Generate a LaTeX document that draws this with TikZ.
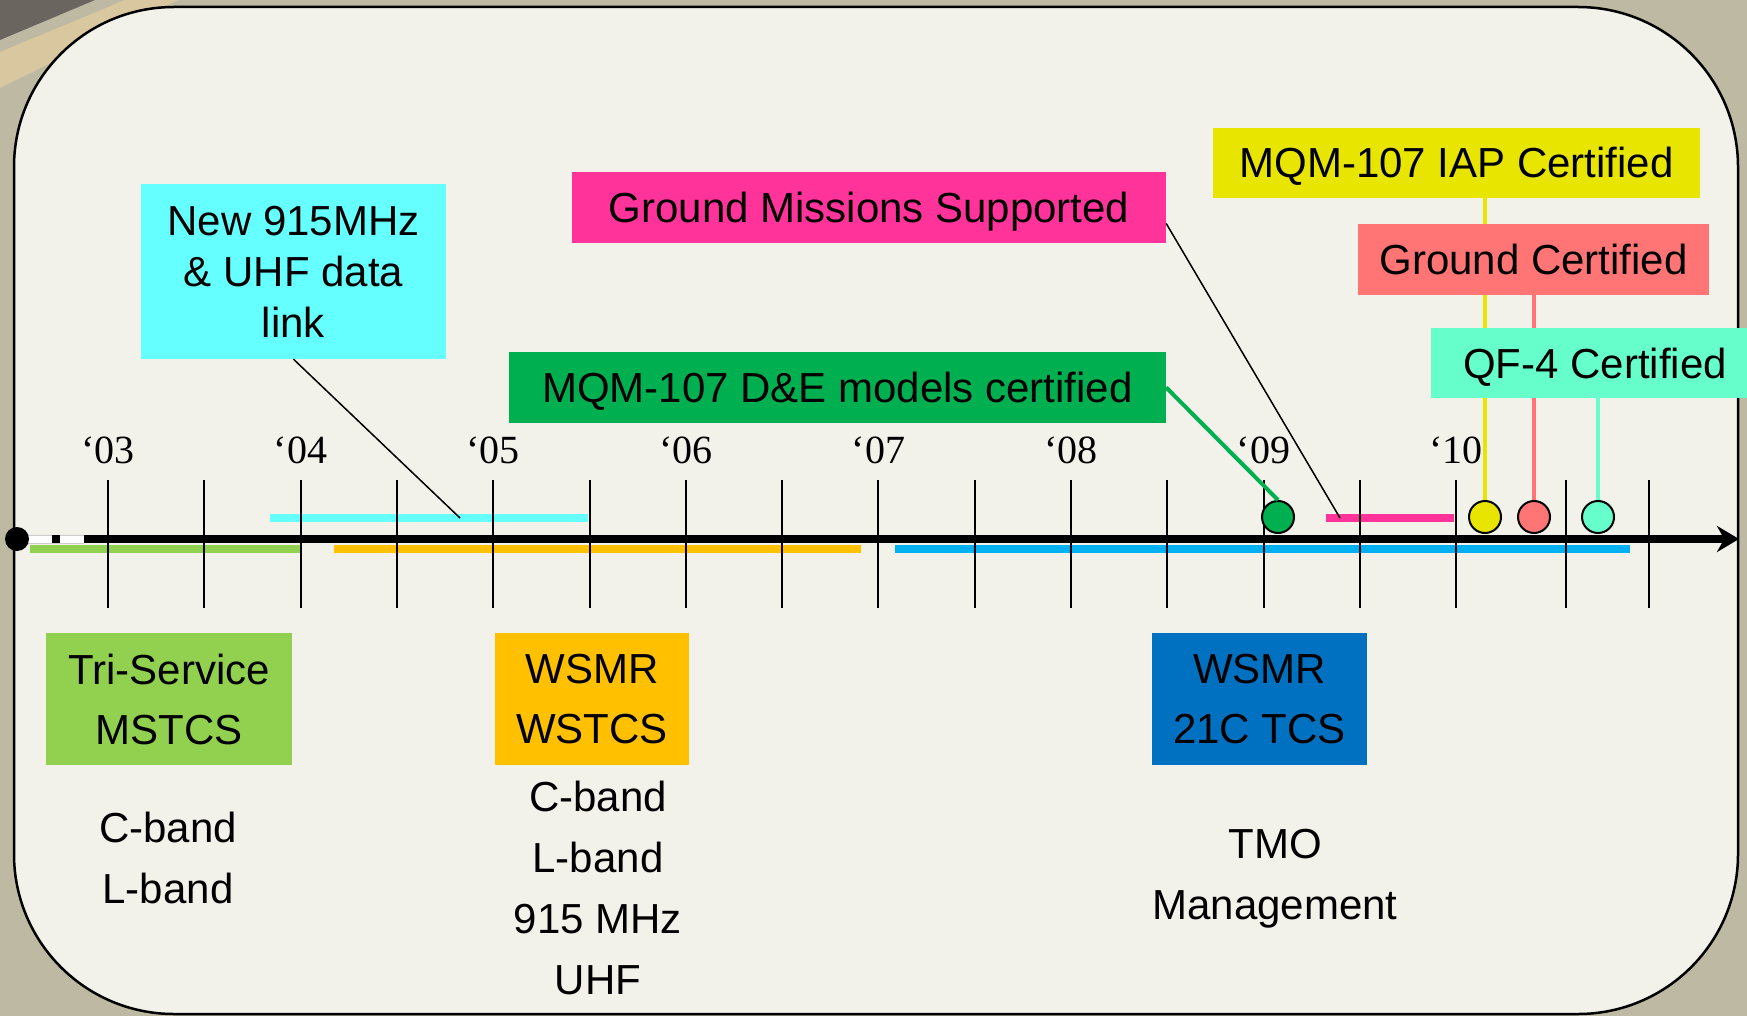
\documentclass[tikz,border=0pt]{standalone}
\usepackage{fontspec}
\setmainfont{Liberation Sans}
\newfontfamily\yearfont{Liberation Serif}
\usetikzlibrary{arrows.meta}
\definecolor{outside}{HTML}{BDB9A3}
\definecolor{tanband}{HTML}{D9C79F}
\definecolor{darkbits}{HTML}{6B6560}
\definecolor{panel}{HTML}{F3F2EA}
\definecolor{linkcyan}{HTML}{66FFFF}
\definecolor{gmspink}{HTML}{FF3399}
\definecolor{dnegreen}{HTML}{00B050}
\definecolor{iapyellow}{HTML}{E8E600}
\definecolor{salmon}{HTML}{FF7575}
\definecolor{aqua}{HTML}{66FFCC}
\definecolor{trigreen}{HTML}{92D050}
\definecolor{amber}{HTML}{FFC000}
\definecolor{navyblue}{HTML}{0070C0}
\definecolor{skyblue}{HTML}{00B0F0}
\begin{document}
\begin{tikzpicture}[x=1pt,y=-1pt,
  box/.style={fill=#1,inner sep=0pt,align=center,font=\fontsize{42}{60}\selectfont},
  onerow/.style={box=#1,text height=30pt,text depth=0pt,minimum height=71pt},
  bandtext/.style={align=center,font=\fontsize{42}{61}\selectfont},
  barline/.style={line width=8pt,#1},
  tickline/.style={line width=2pt},
  milestone/.style={circle,draw,line width=2pt,fill=#1,minimum size=32pt,inner sep=0pt},
  yearlbl/.style={font=\yearfont\fontsize{40}{40}\selectfont,inner sep=0pt},
  leader/.style={line width=4pt,#1}]
\useasboundingbox (0,0) rectangle (1747,1016);
\clip (0,0) rectangle (1747,1016);
% backdrop and panel
\fill[outside] (0,0) rectangle (1747,1016);
\fill[tanband] (0,52) -- (125,0) -- (178,0) -- (0,88) -- cycle;
\fill[darkbits] (0,0) -- (95,0) -- (0,40) -- cycle;
\draw[line width=2.5pt,fill=panel,rounded corners=160pt] (14,7) rectangle (1738,1014);
% spans
\draw[barline=trigreen] (30,549) -- (302,549);
\draw[barline=linkcyan] (270,518) -- (588,518);
\draw[barline=amber] (334,549) -- (861,549);
\draw[barline=skyblue] (895,549) -- (1630,549);
\draw[barline=gmspink] (1326,518) -- (1454,518);
\coordinate (linkpt) at (460,518);
\coordinate (gmspt) at (1340,518);
% ticks and years
\foreach \i in {0,...,14}
  \draw[tickline] ({108+96.3*\i},480) -- ({108+96.3*\i},608);
\foreach \x in {1566,1649}
  \draw[tickline] (\x,480) -- (\x,608);
\foreach \yr [count=\i from 0] in {03,04,05,06,07,08,09,10}
  \node[yearlbl,anchor=base] (yr\yr) at ({108+192.6*\i},463) {‘\yr};
% time axis
\draw[line width=9pt,gray!40] (28,539) -- (84,539);
\draw[line width=7pt,white] (28,539) -- (84,539);
\fill (52,535) rectangle (60,543);
\draw[line width=8pt,-{Stealth[length=22pt,width=26pt]}] (84,539) -- (1739,539);
\node[circle,fill,minimum size=24pt,inner sep=0pt] (origin) at (17,539) {};
% milestones
\node[milestone=dnegreen] (gdot) at (1278,517) {};
\node[milestone=iapyellow] (ydot) at (1485,517) {};
\node[milestone=salmon] (sdot) at (1534,517) {};
\node[milestone=aqua] (adot) at (1598,517) {};
% callouts
\node[box=linkcyan,minimum width=305pt,minimum height=175pt,font=\fontsize{42}{51}\selectfont] (newlink) at (293.5,271.5) {New 915MHz\\ \& UHF data\\ link};
\draw[line width=1.5pt] (newlink.south) -- (linkpt);
\node[onerow=gmspink,minimum width=594pt] (gms) at (869,207.5) {Ground Missions Supported};
\draw[line width=1.5pt] ([yshift=-16pt]gms.east) -- (gmspt);
\node[onerow=dnegreen,minimum width=657pt] (dne) at (837.5,387.5) {MQM-107 D\&E models certified};
\draw[leader=dnegreen] (dne.east) -- (gdot.north);
\node[onerow=iapyellow,minimum width=487pt,minimum height=70pt] (iap) at (1456.5,163) {MQM-107 IAP Certified};
\draw[leader=iapyellow] (iap.south -| ydot) -- (ydot.north);
\node[onerow=salmon,minimum width=351pt] (gcert) at (1533.5,259.5) {Ground Certified};
\draw[leader=salmon] (gcert.south -| sdot) -- (sdot.north);
\node[onerow=aqua,minimum width=328pt,minimum height=70pt] (qf4) at (1595,363) {QF-4 Certified};
\draw[leader=aqua] (qf4.south -| adot) -- (adot.north);
% control stations
\node[box=trigreen,minimum width=246pt,minimum height=132pt] (tri) at (169,699) {Tri-Service\\MSTCS};
\node[box=amber,minimum width=194pt,minimum height=132pt] (wstcs) at (592,699) {WSMR\\WSTCS};
\node[box=navyblue,minimum width=215pt,minimum height=132pt] (tcs) at (1259.5,699) {WSMR\\21C TCS};
\node[bandtext] (triband) at (168,857.5) {C-band\\L-band};
\node[bandtext] (wsband) at (598,887.5) {C-band\\L-band\\915 MHz\\UHF};
\node[bandtext] (tmo) at (1275,879) {TMO\\Management};
\end{tikzpicture}
\end{document}
